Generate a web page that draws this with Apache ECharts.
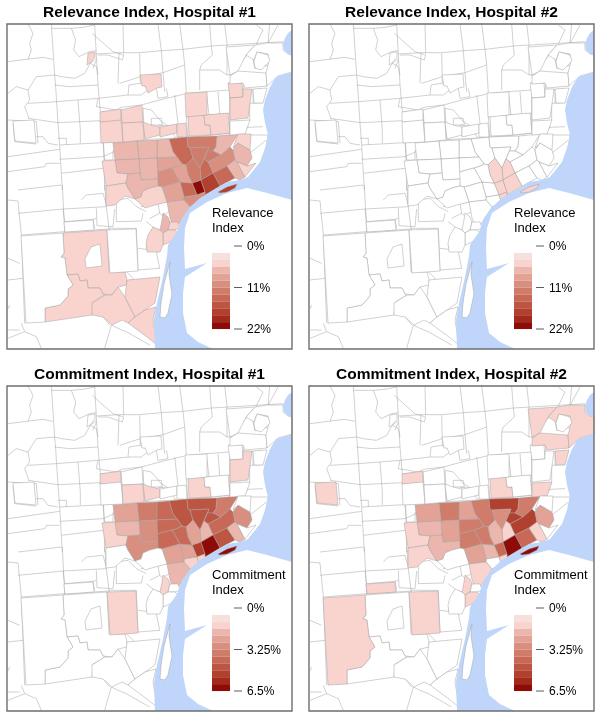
<!DOCTYPE html>
<html><head><meta charset="utf-8">
<style>html,body{margin:0;padding:0;background:#fff}#c{width:600px;height:715px}</style>
<script src="https://cdn.jsdelivr.net/npm/echarts@6/dist/echarts.min.js"></script>
</head><body><div id="c"></div>
<script>
// ---------- values (percent) ----------
const zoneNames = ['Z1','Z2','Z3','Z4','Z5','Z6','Z7','Z8','Z9','Z10','Z11','Z12','Z13','Z14','Z15','Z16','Z17','Z18','Z19','Z20','Z21','Z22','Z23','Z24','Z25','W','W2','Z27','Z28','Z29','Z31','Y1','Y2','Y3','Y4','A','B','C','D','E','F','G','H1','H2','I','J','K','L','M','Q','P1','P2','P3','P4','P5','R','S','T1','T2','T3','T4','U','V','T5','Island'];
const relevanceH1 =  [13.7,11.9,11.9,6.3,11.9,10,13.7,6.3,13.7,6.3,4.5,21,17.4,13.7,11.9,8.2,10,10,6.3,8.2,10,6.3,6.3,6.3,6.3,4.5,4.5,6.3,8.2,6.3,4.5,6.3,4.5,4.5,4.5,4.5,4.5,4.5,4.5,4.5,4.5,4.5,4.5,4.5,4.5,4.5,4.5,4.5,4.5,0,4.5,4.5,4.5,4.5,4.5,0,0,0,0,0,0,0,4.5,0,17.4];
const relevanceH2 =  [0,0,0,0,0,0,4.5,0,0,0,0,4.5,4.5,0,4.5,0,0,4.5,0,0,0,0,0,0,0,0,0,0,0,0,0,0,0,0,0,0,0,0,0,0,0,0,0,0,0,0,0,0,0,0,0,0,0,0,0,0,0,0,0,0,0,0,0,0,4.5];
const commitmentH1 = [4.6,4.6,4.6,3.5,4.6,4.1,1.9,3,4.6,1.9,0,5.1,6.2,2.4,2.4,4.1,1.35,1.35,4.1,4.1,4.1,3.5,3,2.4,1.9,1.35,0,3,2.4,1.9,0,1.35,0,0,0,1.35,0,0,1.35,1.35,0,0,1.35,0,0,0,0,1.35,0,0,0,0,0,0,0,1.35,0,0,0,0,0,0,0,0,6.2];
const commitmentH2 = [3.5,5.1,3,3.5,5.1,5.1,1.35,2.4,4.1,1.35,0,4.1,6.2,1.9,1.9,3.5,0,1.35,2.4,3.5,3.5,3.5,2.4,2.4,1.9,1.35,1.35,1.9,2.4,1.35,0,1.35,0,1.35,0,1.35,0,0,0,0,0,0,1.35,0,0,0,0,0,0,1.35,0,0,0,0,0,1.35,1.35,1.35,1.35,1.35,1.35,1.35,0,1.35,6.2];
const panelTitles = ['Relevance Index, Hospital #1','Relevance Index, Hospital #2','Commitment Index, Hospital #1','Commitment Index, Hospital #2'];
const legendNames = [['Relevance','Index'],['Relevance','Index'],['Commitment','Index'],['Commitment','Index']];
const legendTicksRelevance = ['0%','11%','22%'];
const legendTicksCommitment = ['0%','3.25%','6.5%'];
const scaleMax = [22,22,6.5,6.5];
const binColors = ['#ffffff','#f6e0dc','#f9d3ce','#eab6ad','#e2a295','#d98f80','#d07c6b','#c76956','#bc5541','#b1402e','#a3291b','#8f0b08'];

// ---------- base map (map units, y downwards) ----------
const zoneRings = {
 Z1:[[162,115],[180,113],[181,123],[183,124],[186,134],[179,141],[175,140],[170,133],[166,128]],
 Z2:[[180,113],[210,112],[209,123],[206,127],[200.5,127],[202,123],[183,124],[181,123]],
 Z3:[[183,124],[202,123],[193,144],[186,134]],
 Z4:[[210,112],[231,110],[223,123],[214,131],[206,127],[209,123]],
 Z5:[[200.5,127],[206,127],[214,131],[201,138],[197,135]],
 Z6:[[201,138],[214,131],[223,123],[226,126],[228,136],[220,142],[206,149]],
 Z7:[[193,144],[197,135],[201,138],[206,149],[194,156]],
 Z8:[[226,126],[231,119],[243,126],[245,134],[240,142],[230,138],[228,136]],
 Z9:[[206,149],[220,142],[228,154],[213,162]],
 Z10:[[220,142],[228,136],[230,138],[238,153],[233,156],[228,154]],
 Z11:[[230,138],[240,142],[249,139],[238,153]],
 Z12:[[185,159],[194,156],[198,168],[190,171]],
 Z13:[[194,156],[206,149],[213,162],[198,171],[198,168]],
 Z14:[[173,158],[185,159],[190,171],[177,173]],
 Z15:[[179,141],[186,134],[193,144],[194,156],[185,159],[181,151]],
 Z16:[[165,144],[171,142],[175,140],[179,141],[181,151],[185,159],[173,158]],
 Z17:[[177,173],[190,171],[192,177],[191,179],[183,183],[177,176]],
 Z18:[[190,171],[198,168],[198,171],[201,171],[192,177]],
 Z19:[[150,116],[162,115],[166,128],[170,133],[150,134]],
 Z20:[[150,134],[170,133],[175,140],[171,142],[165,144],[150,148]],
 Z21:[[150,148],[165,144],[173,158],[155,163],[151,162]],
 Z22:[[130,117],[150,116],[150,134],[132,135]],
 Z23:[[132,135],[150,134],[151,155],[134,156],[133,149]],
 Z24:[[106,119],[130,117],[132,135],[108,136]],
 Z25:[[108,136],[132,135],[133,149],[121,150],[110,149]],
 W:[[95,137],[108,136],[110,149],[121,150],[119,159],[99,162]],
 W2:[[99,162],[119,159],[121,164],[128,175],[118,172],[108,181],[99,182]],
 Z27:[[121,150],[133,149],[134,156],[151,155],[151,162],[143,164],[136,167],[134,173],[128,175],[121,164],[119,159]],
 Z28:[[155,163],[173,158],[177,173],[177,176],[160,178]],
 Z29:[[160,178],[177,176],[183,183],[176,194],[168,206],[163,194]],
 Z31:[[143,164],[151,162],[155,163],[160,178],[148,181],[138,184],[128,175],[134,173],[136,167]],
 Y1:[[156,189],[161,193],[163,198],[161,206],[156,209],[153,206],[155,196]],
 Y2:[[163,198],[171,198],[173,204],[168,206],[161,206]],
 Y3:[[156,209],[161,206],[168,206],[172,210],[163,218],[156,221]],
 Y4:[[146,203],[153,206],[156,209],[156,221],[153,228],[140,228],[139,219],[141,211]],
 A:[[93,88],[114,85],[114,97],[93,98]],
 B:[[93,98],[114,96],[116,118],[94,119]],
 C:[[114,86],[135,81],[136,98],[115,99]],
 D:[[115,99],[136,98],[137,116],[116,118]],
 E:[[136,98],[144,101],[153,103],[153,111],[138,115]],
 F:[[153,103],[170,100],[170,109],[153,113]],
 G:[[170,100],[179,99],[180,113],[170,113]],
 H1:[[181,92],[197,91],[198,101],[203,101],[204,111],[182,112]],
 H2:[[197,91],[221,89],[223,109],[204,111],[203,101],[198,101]],
 I:[[178,69],[200,68],[200,91],[179,93]],
 J:[[133,51],[154,50],[155,63],[150,64],[141,69],[138,62],[135,62]],
 K:[[221,59],[235,59],[236,73],[223,74]],
 L:[[223,74],[236,73],[236,65],[245,65],[241,94],[223,96]],
 M:[[80,41],[81,29],[88,28],[88,33],[83,39]],
 Q:[[223,97],[243,96],[238,110],[223,111]],
 P1:[[56,209],[100,206],[102,248],[118,248],[120,256],[120,261],[111,263],[105,271],[96,270],[93,264],[81,264],[80,256],[73,257],[71,250],[60,251],[58,234],[54,233],[57,229]],
 P2:[[60,251],[71,250],[73,257],[80,256],[81,264],[93,264],[96,270],[98,271],[86,278],[85,291],[38,298],[38,284],[53,281],[61,272],[61,265],[66,261]],
 P3:[[85,279],[98,271],[105,271],[111,263],[118,273],[128,293],[121,299],[115,296],[105,301],[96,293],[85,291]],
 P4:[[120,256],[153,253],[148,279],[138,286],[128,293],[118,273]],
 P5:[[128,293],[138,286],[149,283],[146,296],[150,321],[140,313],[121,299]],
 R:[[100,206],[129,205],[131,247],[103,249]],
 S:[[14,212],[56,209],[57,229],[54,233],[58,234],[60,251],[66,261],[61,265],[61,272],[53,281],[38,284],[38,298],[19,299]],
 T1:[[57,198],[86,196],[87,206],[58,208]],
 T2:[[219,23],[248,21],[239,31],[231,47],[223,51]],
 T3:[[223,52],[231,47],[259,49],[260,62],[238,64],[236,59],[223,60]],
 T4:[[248,21],[260,19],[276,19],[276,26],[281,30],[285,31],[285,48],[271,52],[260,62],[259,49],[262,37],[261,30],[250,28],[247,36],[239,31]],
 T5:[[246,65],[260,64],[256,79],[247,79]],
 U:[[6,97],[27,96],[29,119],[18,118],[8,117]],
 V:[[231,110],[244,110],[243,126],[231,119],[226,124]],
 Island:[[211,168],[220,163],[230,160],[228,164],[220,168],[213,169]]
};
const holeRings = {
 hole1:[[78,235],[84,223],[93,220],[95,242],[79,244]],
 hole2:[[247,37],[250,28],[261,31],[263,37],[254,46],[248,44]]
};
const waterRings = {
 waterMain:[[285,48],[269,53],[263,63],[258,76],[256,86],[258,99],[261,111],[258,124],[253,138],[241,153],[233,156],[220,158],[207,166],[193,174],[183,183],[175,194],[170,208],[161,221],[160,232],[156,253],[150,279],[147,296],[148,325],[206,325],[191,318],[180,309],[176,289],[176,269],[178,253],[200,239],[178,245],[177,223],[178,204],[183,189],[200,178],[220,169],[240,164],[260,169],[285,176]],
 waterBay:[[285,6],[281,9],[278,14],[276,20],[277,26],[281,30],[285,31]]
};
const landOnWater = {
 grosseIle:[[163,238],[162,250],[165,270],[161,289],[158,294],[153,293],[154,279],[157,260]]
};
// traced boundary lines, crop-units of the upper half of the map
const netTop = [
 [[145,12],[155,165],[158,200],[165,310],[170,375],[175,460],[178,510]],
 [[275,12],[280,105],[285,195],[295,310],[302,375],[305,510]],
 [[360,12],[362,100]],[[348,100],[345,190]],[[410,100],[412,190]],
 [[465,12],[475,92],[480,158],[485,215]],[[530,12],[540,88],[545,135],[550,220]],
 [[620,12],[625,78],[628,105],[595,135],[590,150],[590,210]],[[665,12],[672,70],[672,165]],
 [[75,12],[90,40],[80,70],[85,90],[75,118]],
 [[145,25],[205,25],[240,22],[275,15]],
 [[205,25],[218,60],[212,90],[228,110],[260,95],[280,92]],
 [[268,40],[290,60],[330,95],[362,105],[358,120],[315,105],[285,105]],
 [[155,165],[175,170],[215,175],[245,160],[262,130],[280,115]],
 [[155,195],[200,200],[285,195]],[[285,165],[280,140],[262,130]],[[270,145],[280,120]],
 [[15,125],[70,118],[120,112],[150,118]],
 [[280,102],[348,98],[410,98],[475,92],[540,88],[625,78],[760,70],[840,65],[868,105]],
 [[350,190],[412,170],[480,158],[545,135]],[[590,150],[650,150],[672,165]],
 [[672,165],[820,160]],
 [[15,220],[40,200],[75,210],[80,240],[65,260],[78,295]],
 [[75,210],[100,170],[155,165]],
 [[75,250],[160,245],[285,235],[375,225],[415,225],[440,205]],
 [[285,235],[280,260],[340,270],[355,262],[415,255],[470,240],[545,222]],
 [[375,225],[378,195],[410,190],[440,205]],
 [[460,205],[465,235],[495,230],[490,205]],
 [[295,275],[355,270],[360,305],[420,298]],
 [[75,295],[165,308],[230,305],[295,302],[355,298]],
 [[15,300],[100,305],[105,370]],[[30,310],[35,365],[100,372]],
 [[100,350],[120,350],[135,370],[165,375]],[[165,355],[190,355],[190,375]],
 [[170,375],[300,368],[400,360],[500,355],[555,352],[680,340]],
 [[225,240],[232,330],[232,370]],[[355,270],[360,360]],[[420,265],[425,355]],
 [[420,265],[445,270],[475,305],[500,320],[518,355]],
 [[445,295],[475,295],[478,315],[445,315],[445,295]],
 [[515,225],[525,310],[555,350]],[[465,315],[520,322]],
 [[555,220],[610,215],[680,210]],[[610,215],[618,285],[600,320],[628,318],[628,285]],
 [[645,215],[650,280]],[[555,290],[680,280],[730,270]],[[550,290],[555,355]],
 [[680,188],[722,188],[722,232],[680,232]],[[680,188],[680,340]],
 [[722,210],[780,207]],[[750,210],[750,250]],
 [[680,325],[735,322],[780,320]],[[735,320],[720,345],[795,345]],[[740,300],[740,250],[780,248]],
 [[680,168],[720,120],[745,90],[755,145],[800,135],[790,100],[760,72],[780,30],[760,15]],
 [[800,12],[795,70],[825,15]],
 [[15,410],[170,388]],[[15,455],[125,440],[130,430],[170,430]],
 [[170,418],[300,410],[340,392]],[[175,460],[300,445]],
 [[300,368],[305,420],[330,420],[330,392],[405,385],[470,380]],
 [[405,360],[410,450],[465,445]],[[465,360],[470,410],[510,405]],
 [[345,420],[405,415]],[[345,420],[345,460],[410,450]],
 [[500,360],[510,400],[560,430]],[[510,445],[545,470]],[[465,445],[475,485],[500,510]],
 [[375,465],[370,490],[380,510]],[[560,430],[560,400],[615,385],[630,405]],[[305,510],[370,492]],
 [[710,340],[690,395]],[[735,345],[740,400],[790,360]],[[795,345],[790,380]]
];
// traced boundary lines, crop-units of the lower half of the map
const netBottom = [
 [[178,0],[185,140],[190,210],[195,270]],
 [[15,45],[45,48],[55,150],[60,280],[65,415]],
 [[45,15],[175,0]],[[45,85],[180,72],[310,65]],[[55,150],[185,140],[320,132]],
 [[180,72],[185,110],[270,103],[275,130]],[[270,103],[280,100]],
 [[235,45],[250,30],[300,25],[310,60]],[[305,0],[310,65],[318,130],[322,262],[370,260]],
 [[318,130],[400,130],[405,255]],[[280,70],[282,122],[330,125],[335,72]],
 [[340,45],[340,110],[415,108],[420,85]],[[340,45],[375,40],[400,65],[430,80]],
 [[405,190],[470,198]],[[405,255],[470,250],[460,200]],
 [[370,260],[390,280],[375,310],[370,350]],
 [[15,285],[60,280]],[[15,220],[50,235]],[[15,372],[20,360]],
 [[55,415],[65,440],[15,460]],[[15,435],[50,435]],
 [[65,440],[100,455],[115,490]],
 [[305,490],[325,420],[345,430],[370,440],[440,480]],[[320,420],[300,395]],
 [[440,100],[470,85],[500,110],[490,140],[455,130],[430,110]],
 [[480,90],[520,70],[545,50]],[[415,65],[465,55],[495,50],[480,15]],
 [[430,190],[445,135],[470,140]],[[510,35],[540,10]],[[555,50],[585,25]],
 [[420,0],[440,40],[415,65]],[[500,30],[555,50]],[[465,55],[470,85]]
];

// ---------- build map ----------
const MAP_W = 285, MAP_H = 325;
const flip = pts => pts.map(p => [p[0], MAP_H - p[1]]);
const close = pts => flip(pts.concat([pts[0]]));
const traced = (list, ox, oy) => list.map(l => flip(l.map(p => [Math.min(MAP_W, Math.max(0, p[0]/3 + ox)), p[1]/3 + oy])));
const poly = (name, ring) => ({type:'Feature', properties:{name}, geometry:{type:'Polygon', coordinates:[close(ring)]}});
const features = [
 {type:'Feature', properties:{name:'network'}, geometry:{type:'MultiLineString', coordinates: traced(netTop,-4,-4).concat(traced(netBottom,-4,161))}}
];
zoneNames.filter(n => n !== 'Island').forEach(n => features.push(poly(n, zoneRings[n])));
Object.keys(holeRings).forEach(n => features.push(poly(n, holeRings[n])));
Object.keys(waterRings).forEach(n => features.push(poly(n, waterRings[n])));
Object.keys(landOnWater).forEach(n => features.push(poly(n, landOnWater[n])));
features.push(poly('Island', zoneRings.Island));
const geoJson = {type:'FeatureCollection', features};
// each panel needs its own map name: series sharing one are merged into a single view
[0,1,2,3].forEach(i => echarts.registerMap('detroit' + i, geoJson));

const chart = echarts.init(document.getElementById('c'), null, {renderer:'canvas'});
const LINE = '#a2a2a2', LW = 0.5, FRAME = '#6e6e6e';
const panels = [[7,24],[309,24],[7,386],[309,386]];
const allValues = [relevanceH1, relevanceH2, commitmentH1, commitmentH2];
const fixedItems = []
 .concat([{name:'network', itemStyle:{borderColor:LINE, borderWidth:LW}}])
 .concat(Object.keys(holeRings).map(n => ({name:n, itemStyle:{areaColor:'#fff', borderColor:LINE, borderWidth:LW}})))
 .concat(Object.keys(waterRings).map(n => ({name:n, itemStyle:{areaColor:'#bfd6fa', borderWidth:0, borderColor:'#bfd6fa'}})))
 .concat(Object.keys(landOnWater).map(n => ({name:n, itemStyle:{areaColor:'#fff', borderColor:LINE, borderWidth:LW}})));

const series = panels.map((p, i) => ({
 type:'map', map:'detroit' + i, silent:true, roam:false, aspectScale:1, selectedMode:false,
 boundingCoords:[[0,MAP_H],[MAP_W,0]],
 left:p[0], top:p[1], width:MAP_W, height:MAP_H,
 label:{show:false}, emphasis:{disabled:true},
 itemStyle:{areaColor:'#fff', borderColor:LINE, borderWidth:LW},
 data: fixedItems.concat(zoneNames.map((n, k) => ({name:n, value:allValues[i][k]})))
}));
const visualMap = panels.map((p, i) => ({
 type:'piecewise', seriesIndex:i, orient:'vertical', inverse:true, left:p[0]+205, top:p[1]+222,
 padding:0, itemGap:0, itemWidth:18, itemHeight:6.92, itemSymbol:'rect', showLabel:false, selectedMode:false, hoverLink:false,
 pieces: binColors.map((c, b) => ({min:b*scaleMax[i]/12, max:(b+1)*scaleMax[i]/12, color:c})),
 textStyle:{fontSize:1}
}));
const title = panels.map((p, i) => ({
 text:panelTitles[i], left:p[0]+MAP_W/2, top:p[1]-19, textAlign:'center', padding:0,
 textStyle:{fontFamily:'"Liberation Sans",Arial,sans-serif', fontWeight:'bold', fontSize:15.5, color:'#000'}
}));
const graphic = [];
panels.forEach((p, i) => {
 graphic.push({type:'rect', z:50, silent:true, shape:{x:p[0], y:p[1], width:MAP_W, height:MAP_H}, style:{fill:null, stroke:FRAME, lineWidth:1.4}});
 const txt = {fontFamily:'"Liberation Sans",Arial,sans-serif', fill:'#000', verticalAlign:'middle', align:'left'};
 legendNames[i].forEach((t, k) => graphic.push({type:'text', z:51, silent:true, x:p[0]+205, y:p[1]+189+15*k, style:Object.assign({text:t, fontSize:13}, txt)}));
 const ticks = i < 2 ? legendTicksRelevance : legendTicksCommitment;
 ticks.forEach((t, k) => {
  const y = p[1] + 222 + k*41.5;
  graphic.push({type:'line', z:51, silent:true, shape:{x1:p[0]+227, y1:y, x2:p[0]+235, y2:y}, style:{stroke:'#333', lineWidth:0.8}});
  graphic.push({type:'text', z:51, silent:true, x:p[0]+240, y:y+1, style:Object.assign({text:t, fontSize:12}, txt)});
 });
});
chart.setOption({animation:false, backgroundColor:'#fff', title, visualMap, series, graphic});
</script></body></html>
